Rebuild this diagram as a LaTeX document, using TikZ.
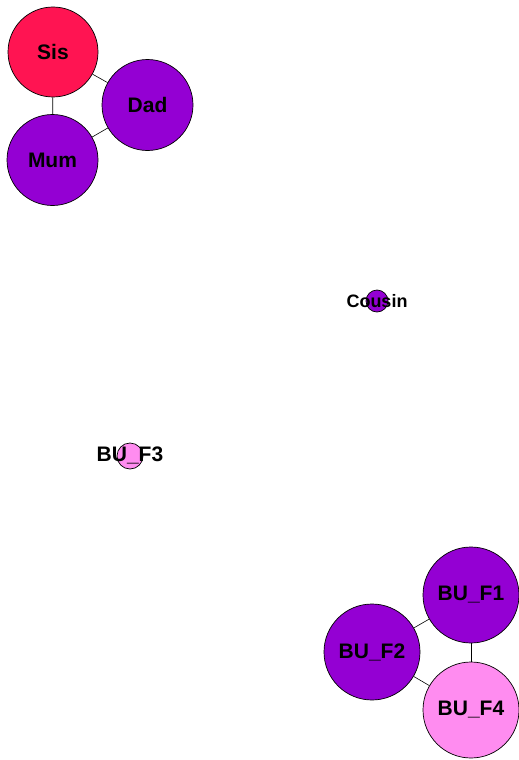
\documentclass[tikz,border=0pt]{standalone}
\usepackage{fontspec}
\setmainfont{Liberation Sans}
\definecolor{sisred}{RGB}{255,20,82}
\definecolor{purp}{RGB}{148,0,211}
\definecolor{pinkv}{RGB}{255,140,240}
\begin{document}
\begin{tikzpicture}[x=1pt,y=-1pt,
  vert/.style={circle,draw=black,line width=0.7pt,inner sep=0pt},
  lab/.style={font=\bfseries\fontsize{21}{21}\selectfont,text=black},
  edge/.style={draw=black,line width=0.6pt}]
\useasboundingbox (0,0) rectangle (519,760);
\node[vert,fill=sisred,minimum size=90pt] (sis) at (53,52) {};
\node[vert,fill=purp,minimum size=91pt] (dad) at (147.5,105) {};
\node[vert,fill=purp,minimum size=91pt] (mum) at (52.5,160) {};
\node[vert,fill=purp,minimum size=22pt] (cousin) at (377,301) {};
\node[vert,fill=pinkv,minimum size=26pt] (f3) at (130,456) {};
\node[vert,fill=purp,minimum size=96pt] (f1) at (471,595) {};
\node[vert,fill=purp,minimum size=96pt] (f2) at (372,652) {};
\node[vert,fill=pinkv,minimum size=96pt] (f4) at (471,710) {};
\path[edge] (sis) -- (dad);
\path[edge] (sis) -- (mum);
\path[edge] (mum) -- (dad);
\path[edge] (f1) -- (f2);
\path[edge] (f1) -- (f4);
\path[edge] (f2) -- (f4);
\node[lab] (tsis) at (sis) {Sis};
\node[lab] (tdad) at (dad) {Dad};
\node[lab] (tmum) at (mum) {Mum};
\node[lab,font=\bfseries\fontsize{18}{18}\selectfont] (tcousin) at (377,301) {Cousin};
\node[lab] (tf3) at (130,455) {BU\_F3};
\node[lab] (tf1) at (f1) {BU\_F1};
\node[lab] (tf2) at (f2) {BU\_F2};
\node[lab] (tf4) at (f4) {BU\_F4};
\end{tikzpicture}
\end{document}
